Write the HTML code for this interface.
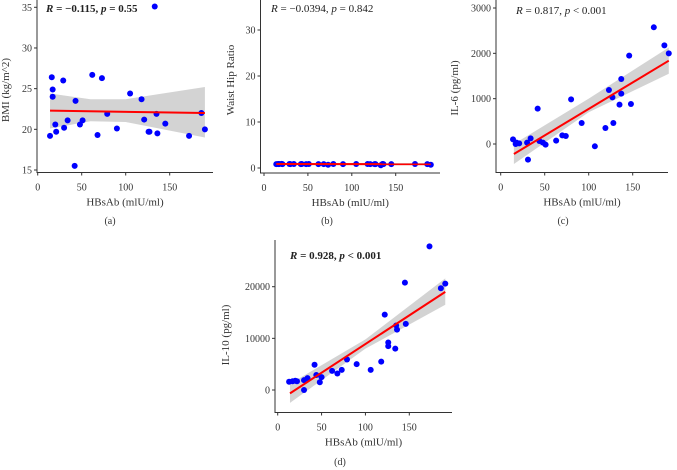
<!DOCTYPE html>
<html><head><meta charset="utf-8"><style>
html,body{margin:0;padding:0;background:#fff;}
svg{display:block;font-family:"Liberation Serif",serif;}
</style></head><body>
<svg id="fig" width="677" height="470" viewBox="0 0 677 470" xmlns="http://www.w3.org/2000/svg"></svg>
<script>
// Panel (a) BMI
const aX=[14,16,17,17,20,21,29,30,34,42,43,48,51,62,68,73,79,90,105,118,121,126,127,133,135,136,145,172,186,190];
const aY=[19.2,26.4,24.9,24.0,20.6,19.7,26.0,20.2,21.1,15.5,23.5,20.6,21.1,26.7,19.3,26.3,21.9,20.1,24.4,23.7,21.2,19.7,19.7,35.1,21.9,19.5,20.7,19.2,22.0,20.0];
const aFitX=[14,190], aFitY=[22.3,22.0];
const aBandX=[14,60,100,190], aBandLo=[20.1,21.0,20.9,19.0], aBandHi=[24.4,23.7,23.7,25.2];
const aYTicks=[15,20,25,30,35];
// Panel (b) Waist hip ratio
const bX=[14,16,17,17,20,21,29,30,34,42,43,48,51,62,68,73,79,90,105,118,121,126,127,133,135,136,145,172,186,190];
const bY=[0.85,0.88,0.86,0.84,0.9,0.85,0.86,0.84,0.87,0.85,0.88,0.84,0.86,0.85,0.83,0.7,0.86,0.85,0.86,0.87,0.85,0.84,0.85,0.6,0.86,0.84,0.85,0.86,0.84,0.7];
const bFitX=[14,190], bFitY=[0.86,0.84];
const bBandX=[14,190], bBandLo=[0.6,0.6], bBandHi=[1.1,1.1];
const bYTicks=[0,10,20,30];
// Panel (c) IL-6
const cX=[14,17,18,21,30,31,34,42,44,48,51,63,70,74,80,92,107,119,123,127,128,135,137,137,146,148,174,186,191];
const cY=[103,0,30,15,30,-345,125,780,66,30,-15,74,190,176,985,463,-51,353,1191,1029,463,868,1434,1110,1949,882,2574,2176,2000];
const cFitX=[15,191], cFitY=[-220,1838];
const cBandX=[15,100,191], cBandLo=[-440,700,1550], cBandHi=[0,1000,2130];
const cYTicks=[0,1000,2000,3000];
// Panel (d) IL-10
const dX=[13,17,20,22,30,30,34,42,44,48,50,62,68,73,79,90,106,118,122,126,126,134,135,136,145,146,173,186,191];
const dY=[1600,1700,1800,1700,0,1900,2300,4900,2900,1500,2500,3700,3200,3900,5900,5000,3900,5500,14600,9200,8500,8000,12500,11700,20800,12800,27800,19700,20600];
const dFitX=[14,191], dFitY=[-650,19000];
const dBandX=[14,100,191], dBandLo=[-2500,8000,16500], dBandHi=[1200,9800,21600];
const dYTicks=[0,10000,20000];
const xTicks=[0,50,100,150];

const NS="http://www.w3.org/2000/svg";
const svg=document.getElementById('fig');
function mk(tag,attrs,parent){const e=document.createElementNS(NS,tag);for(const k in attrs)e.setAttribute(k,attrs[k]);(parent||svg).appendChild(e);return e;}

function panel(p){
  const g=mk('g',{});
  
  
  const sx=v=>p.x0+(v)*(p.x150-p.x0)/150;
  const sy=v=>p.yA+(v-p.vA)*(p.yB-p.yA)/(p.vB-p.vA);
  // band
  let d='';
  p.bx.forEach((v,i)=>{d+=(i?'L':'M')+sx(v)+','+sy(p.bhi[i]);});
  for(let i=p.bx.length-1;i>=0;i--)d+='L'+sx(p.bx[i])+','+sy(p.blo[i]);
  const band=mk('path',{d:d+'Z',fill:'#d3d3d3'},g);
  
  
  // points
  p.xs.forEach((v,i)=>{
    const c=mk('circle',{cx:sx(v),cy:sy(p.ys[i]),r:3,fill:'#0000ff'},g);
    
    
  });
  const ln=mk('line',{x1:sx(p.fx[0]),y1:sy(p.fy[0]),x2:sx(p.fx[1]),y2:sy(p.fy[1]),stroke:'#ff0000','stroke-width':2},g);
  
  
  // axes
  const ax=mk('path',{d:`M${p.ax},${p.yTop}V${p.ay}H${p.xEnd}`,fill:'none',stroke:'#333','stroke-width':1},g);
  
  
  p.yt.forEach(v=>{
    mk('line',{x1:p.ax-3,x2:p.ax,y1:sy(v),y2:sy(v),stroke:'#333'},g);
    const t=mk('text',{x:p.ax-5,y:sy(v)+3.5,'font-size':10,'text-anchor':'end',fill:'#333'},g);
    t.textContent=v;
    
    
  });
  xTicks.forEach(v=>{
    mk('line',{x1:sx(v),x2:sx(v),y1:p.ay,y2:p.ay+3,stroke:'#333'},g);
    const t=mk('text',{x:sx(v),y:p.ay+18,'font-size':10,'text-anchor':'middle',fill:'#333'},g);
    t.textContent=v;
    
    
  });
  const xl=mk('text',{x:(p.ax+p.xEnd)/2,y:p.ay+33,'font-size':11,'text-anchor':'middle',fill:'#333'},g);
  xl.textContent='HBsAb (mlU/ml)';
  
  
  const yl=mk('text',{x:0,y:0,'font-size':11,'text-anchor':'middle',fill:'#333',transform:`translate(${p.ylx},${p.yly}) rotate(-90)`},g);
  yl.textContent=p.ylabel;
  
  
  const ti=mk('text',{x:p.tx,y:p.ty,'font-size':11,fill:'#222','font-weight':p.bold?'bold':'normal'},g);
  ti.innerHTML=`<tspan font-style="italic">R</tspan> = ${p.r}, <tspan font-style="italic">p</tspan> ${p.pv}`;
  
  
  const cap=mk('text',{x:p.capx,y:p.capy,'font-size':10,'text-anchor':'middle',fill:'#333'},g);
  cap.textContent=p.cap;
  
  
}

panel({name:'panel-a-bmi',xs:aX,ys:aY,fx:aFitX,fy:aFitY,bx:aBandX,blo:aBandLo,bhi:aBandHi,yt:aYTicks,
 x0:37.7,x150:169.7,vA:15,yA:170,vB:35,yB:7.3,ax:37,ay:172.5,xEnd:213,yTop:0,
 ylabel:'BMI (kg/m^2)',ylx:9,yly:90,tx:46,ty:12,bold:true,r:'\u22120.115',pv:'= 0.55',cap:'(a)',capx:110,capy:224});
panel({name:'panel-b-whr',xs:bX,ys:bY,fx:bFitX,fy:bFitY,bx:bBandX,blo:bBandLo,bhi:bBandHi,yt:bYTicks,
 x0:264,x150:395.7,vA:0,yA:168,vB:30,yB:30,ax:260.5,ay:173,xEnd:440,yTop:0,
 ylabel:'Waist Hip Ratio',ylx:234,yly:80,tx:271,ty:12,bold:false,r:'\u22120.0394',pv:'= 0.842',cap:'(b)',capx:327,capy:224});
panel({name:'panel-c-il6',xs:cX,ys:cY,fx:cFitX,fy:cFitY,bx:cBandX,blo:cBandLo,bhi:cBandHi,yt:cYTicks,
 x0:500.7,x150:632.7,vA:0,yA:144,vB:3000,yB:8,ax:496,ay:172.5,xEnd:668,yTop:0,
 ylabel:'IL-6 (pg/ml)',ylx:458,yly:88,tx:516,ty:14,bold:false,r:'0.817',pv:'< 0.001',cap:'(c)',capx:563,capy:224});
panel({name:'panel-d-il10',xs:dX,ys:dY,fx:dFitX,fy:dFitY,bx:dBandX,blo:dBandLo,bhi:dBandHi,yt:dYTicks,
 x0:277.7,x150:409.3,vA:0,yA:390,vB:20000,yB:286.7,ax:275,ay:412.5,xEnd:452,yTop:240,
 ylabel:'IL-10 (pg/ml)',ylx:229,yly:335,tx:290,ty:259,bold:true,r:'0.928',pv:'< 0.001',cap:'(d)',capx:340,capy:465});
</script>
</body></html>
